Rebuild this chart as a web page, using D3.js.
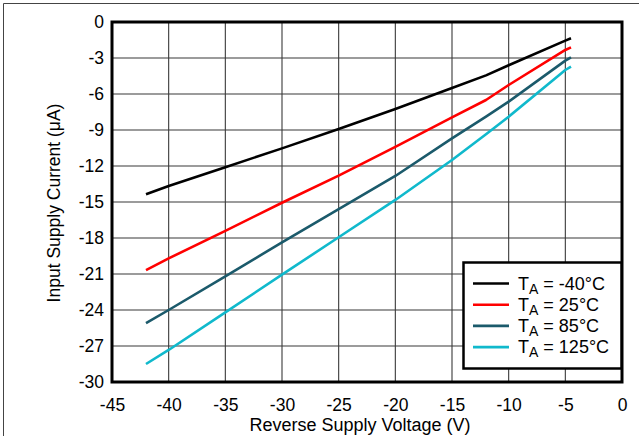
<!DOCTYPE html>
<html>
<head>
<meta charset="utf-8">
<script src="https://cdn.jsdelivr.net/npm/d3@7"></script>
<style>
  html, body { margin: 0; padding: 0; background: #fff; }
  svg { display: block; font-family: "Liberation Sans", Arial, sans-serif; }
</style>
</head>
<body>
<svg id="chart" width="639" height="436"></svg>
<script>
// Reverse supply voltage (V) sample points
const voltage = [-42, -40, -35, -30, -25, -20, -15, -12, -10, -5, -4.5];

// Input supply current (µA) per ambient temperature
const currentM40 = [-14.36, -13.67, -12.1, -10.53, -8.92, -7.25, -5.5, -4.45, -3.6, -1.55, -1.36];
const current25  = [-20.67, -19.7, -17.4, -15.06, -12.8, -10.4, -7.94, -6.5, -5.25, -2.33, -2.11];
const current85  = [-25.1, -24.0, -21.2, -18.36, -15.6, -12.83, -9.7, -7.88, -6.64, -3.22, -2.94];
const current125 = [-28.5, -27.33, -24.2, -21.05, -17.94, -14.83, -11.5, -9.35, -7.89, -4.0, -3.72];

const seriesNames  = ["-40°C", "25°C", "85°C", "125°C"];
const seriesColors = ["#000000", "#ff0000", "#1b5a6b", "#10b9cc"];
const seriesValues = [currentM40, current25, current85, current125];

const xTicks = [-45, -40, -35, -30, -25, -20, -15, -10, -5, 0];
const yTicks = [0, -3, -6, -9, -12, -15, -18, -21, -24, -27, -30];

const svg = d3.select("#chart");
const L = 112, T = 22, R = 622, B = 382;

const x = d3.scaleLinear().domain([-45, 0]).range([L, R]);
const y = d3.scaleLinear().domain([-30, 0]).range([B, T]);

// outer frame (top and left edges)
svg.append("path")
  .attr("d", `M3.5,436 V3.5 H639`)
  .attr("fill", "none").attr("stroke", "#444").attr("stroke-width", 1);

// grid
const grid = svg.append("g");
grid.selectAll("line.h").data(yTicks.slice(1, -1)).join("line")
  .attr("x1", L).attr("x2", R)
  .attr("y1", d => y(d)).attr("y2", d => y(d))
  .attr("stroke", "#7a7a7a").attr("stroke-width", 1.6);
grid.selectAll("line.v").data(xTicks.slice(1, -1)).join("line")
  .attr("y1", T).attr("y2", B)
  .attr("x1", d => x(d)).attr("x2", d => x(d))
  .attr("stroke", "#3a3a3a").attr("stroke-width", 1.1);

// data lines
const line = d3.line().x(d => x(d[0])).y(d => y(d[1]));
seriesValues.forEach((vals, i) => {
  svg.append("path")
    .datum(voltage.map((v, j) => [v, vals[j]]))
    .attr("d", line)
    .attr("fill", "none")
    .attr("stroke", seriesColors[i])
    .attr("stroke-width", 2.6)
    .attr("stroke-linejoin", "round");
});

// axes (labels only; frame drawn separately)
const xAxis = svg.append("g").attr("transform", `translate(0,${B})`)
  .call(d3.axisBottom(x).tickValues(xTicks).tickSize(0).tickPadding(17).tickFormat(d => String(d)));
const yAxis = svg.append("g").attr("transform", `translate(${L},0)`)
  .call(d3.axisLeft(y).tickValues(yTicks).tickSize(0).tickPadding(8).tickFormat(d => String(d)));
[xAxis, yAxis].forEach(a => {
  a.select(".domain").remove();
  a.selectAll("text").attr("font-size", 17.5).attr("fill", "#000")
    .attr("font-family", "'Liberation Sans', Arial, sans-serif");
});

// plot border
svg.append("rect")
  .attr("x", L).attr("y", T).attr("width", R - L).attr("height", B - T)
  .attr("fill", "none").attr("stroke", "#000").attr("stroke-width", 3);

// axis titles
svg.append("text")
  .attr("x", (L + R) / 2 - 7).attr("y", 431)
  .attr("text-anchor", "middle").attr("font-size", 18)
  .text("Reverse Supply Voltage (V)");
svg.append("text")
  .attr("transform", `translate(60,${(T + B) / 2 + 1}) rotate(-90)`)
  .attr("text-anchor", "middle").attr("font-size", 17.5)
  .text("Input Supply Current (μA)");

// legend
const lg = svg.append("g");
lg.append("rect")
  .attr("x", 463.5).attr("y", 262.5).attr("width", 158).attr("height", 106)
  .attr("fill", "#fff").attr("stroke", "#000").attr("stroke-width", 2.5);
seriesNames.forEach((name, i) => {
  const yy = 283.5 + i * 21.2;
  lg.append("line")
    .attr("x1", 473).attr("x2", 509).attr("y1", yy).attr("y2", yy)
    .attr("stroke", seriesColors[i]).attr("stroke-width", 2.6);
  const t = lg.append("text").attr("x", 518).attr("y", yy + 6).attr("font-size", 18);
  t.append("tspan").text("T");
  t.append("tspan").attr("font-size", 14).attr("dy", 4).text("A");
  t.append("tspan").attr("dy", -4).text(" = " + name);
});
</script>
</body>
</html>
